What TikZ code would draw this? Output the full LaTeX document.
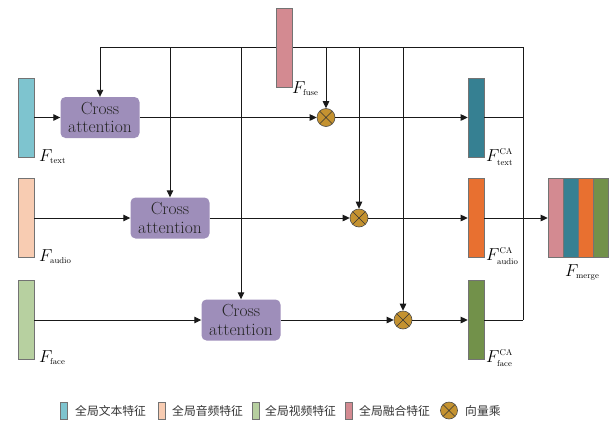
\documentclass[tikz,border=0pt]{standalone}
\usepackage{fontspec}
\newfontfamily\cjk{Noto Sans CJK SC}
\usetikzlibrary{arrows.meta}
\definecolor{textc}{HTML}{7EC4CF}
\definecolor{audioc}{HTML}{F8CCB2}
\definecolor{facec}{HTML}{B7D0A0}
\definecolor{fusec}{HTML}{D38A91}
\definecolor{cafill}{HTML}{9E8EBA}
\definecolor{mulc}{HTML}{C49230}
\definecolor{tcac}{HTML}{368092}
\definecolor{acac}{HTML}{E87030}
\definecolor{fcac}{HTML}{72914A}
\newcommand\Fsub[1]{$F_{\mbox{\fontsize{8.5}{8.5}\selectfont #1}}$}
\newcommand\Fca[1]{$F^{\mbox{\fontsize{8.5}{8.5}\selectfont CA}}_{\mbox{\fontsize{8.5}{8.5}\selectfont #1}}$}
\begin{document}
\begin{tikzpicture}[x=1pt,y=-1pt,
  bar/.style={draw=black!55, line width=0.6pt, minimum width=16pt, minimum height=79pt, inner sep=0pt},
  mbar/.style={draw=black!55, line width=0.6pt, minimum width=15pt, minimum height=79pt, inner sep=0pt},
  legbar/.style={draw=black!55, line width=0.6pt, minimum width=7pt, minimum height=17pt, inner sep=0pt},
  cabox/.style={fill=cafill, rounded corners=5pt, minimum width=79pt, minimum height=41pt, inner sep=0pt, align=center, font=\fontsize{17.5}{18.5}\selectfont, text=black!85},
  mul/.style={circle, fill=mulc, draw=black!70, line width=0.6pt, minimum size=#1, inner sep=0pt,
    path picture={\draw[black!80,line width=0.6pt] (path picture bounding box.north west) -- (path picture bounding box.south east) (path picture bounding box.north east) -- (path picture bounding box.south west);}},
  ln/.style={line width=0.9pt, draw=black!90},
  arr/.style={-{Triangle[length=7pt,width=6.5pt]}},
  lab/.style={anchor=base west, inner sep=0pt, font=\fontsize{18}{18}\selectfont},
  legtxt/.style={anchor=west, inner sep=0pt, font=\cjk\fontsize{11.8}{13}\selectfont, text=black!80}
]
\useasboundingbox (0,0) rectangle (611,424);
% bus
\coordinate (bl) at (100,47);
\coordinate (br) at (523,47);
\coordinate (bb) at (523,320);
\draw[ln] (bl) -- (br) -- (bb);
% nodes
\node[bar,fill=fusec] (fuse) at (284,47.5) {};
\node[bar,fill=textc] (tb) at (26,117.5) {};
\node[bar,fill=audioc] (ab) at (26,218) {};
\node[bar,fill=facec] (fb) at (26,320) {};
\node[cabox] (ca1) at (100,117.5) {Cross\\attention};
\node[cabox] (ca2) at (170,218) {Cross\\attention};
\node[cabox] (ca3) at (241,320) {Cross\\attention};
\node[mul=18pt] (m1) at (326,117.5) {};
\node[mul=18pt] (m2) at (359,218) {};
\node[mul=18pt] (m3) at (403,320) {};
\node[bar,fill=tcac] (tca) at (476,117.5) {};
\node[bar,fill=acac] (aca) at (476,218) {};
\node[bar,fill=fcac] (fca) at (476,320) {};
\node[mbar,fill=fusec] (g1) at (555.5,218) {};
\node[mbar,fill=tcac] (g2) at (570.5,218) {};
\node[mbar,fill=acac] (g3) at (585.5,218) {};
\node[mbar,fill=fcac] (g4) at (600.5,218) {};
% drops from bus
\draw[ln,arr] (ca1.north |- bl) -- (ca1.north);
\draw[ln,arr] (ca2.north |- bl) -- (ca2.north);
\draw[ln,arr] (ca3.north |- bl) -- (ca3.north);
\draw[ln,arr] (m1.north |- bl) -- (m1.north);
\draw[ln,arr] (m2.north |- bl) -- (m2.north);
\draw[ln,arr] (m3.north |- bl) -- (m3.north);
% rows
\draw[ln,arr] (tb.east) -- (ca1.west);
\draw[ln,arr] (ca1.east) -- (m1.west);
\draw[ln,arr] (m1.east) -- (tca.west);
\draw[ln] (tca.east) -- (tca.east -| bb);
\draw[ln,arr] (ab.east) -- (ca2.west);
\draw[ln,arr] (ca2.east) -- (m2.west);
\draw[ln,arr] (m2.east) -- (aca.west);
\draw[ln,arr] (aca.east) -- (g1.west);
\draw[ln,arr] (fb.east) -- (ca3.west);
\draw[ln,arr] (ca3.east) -- (m3.west);
\draw[ln,arr] (m3.east) -- (fca.west);
\draw[ln] (fca.east) -- (bb);
% labels
\node[lab] (ltext) at (39,161) {\Fsub{text}};
\node[lab] (laudio) at (39,261) {\Fsub{audio}};
\node[lab] (lface) at (39,362) {\Fsub{face}};
\node[lab] (lfuse) at (292,93) {\Fsub{fuse}};
\node[lab] (ltca) at (486,161) {\Fca{text}};
\node[lab] (laca) at (486,260) {\Fca{audio}};
\node[lab] (lfca) at (486,362) {\Fca{face}};
\node[lab] (lmerge) at (565,276) {\Fsub{merge}};
% legend
\node[legbar,fill=textc] (k1) at (64,410.5) {};
\node[legtxt] (t1) at (75,411) {全局文本特征};
\node[legbar,fill=audioc] (k2) at (161.5,410.5) {};
\node[legtxt] (t2) at (172,411) {全局音频特征};
\node[legbar,fill=facec] (k3) at (255.5,410.5) {};
\node[legtxt] (t3) at (265,411) {全局视频特征};
\node[legbar,fill=fusec] (k4) at (349,410.5) {};
\node[legtxt] (t4) at (359,411) {全局融合特征};
\node[mul=17pt] (k5) at (449,410.5) {};
\node[legtxt] (t5) at (465,411) {向量乘};
\end{tikzpicture}
\end{document}
